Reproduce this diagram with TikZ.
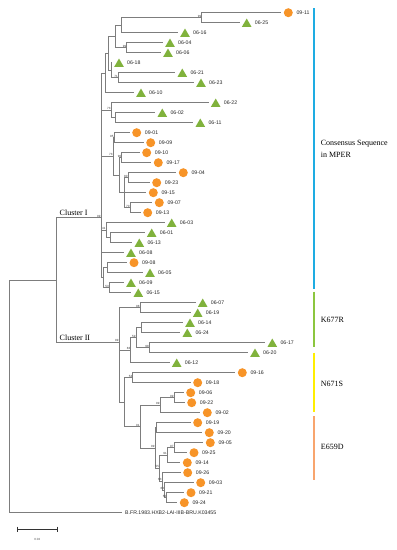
\documentclass[tikz,border=0pt]{standalone}
\usepackage{fontspec}
\setmainfont{Liberation Serif}
\newfontfamily\lsans{Liberation Sans}
\usetikzlibrary{shapes.geometric}
\definecolor{trgreen}{RGB}{128,178,60}
\definecolor{cirorange}{RGB}{247,148,40}
\definecolor{branch}{RGB}{125,125,125}
\definecolor{barblue}{RGB}{30,172,226}
\definecolor{bargreen}{RGB}{140,198,63}
\definecolor{baryellow}{RGB}{255,238,0}
\definecolor{barorange}{RGB}{248,165,110}
\tikzset{
  br/.style={draw=branch, line width=0.7pt},
  tri/.style={regular polygon, regular polygon sides=3, fill=trgreen, draw=none, inner sep=0pt, minimum size=11pt, yshift=-1.3pt},
  cir/.style={circle, fill=cirorange, draw=none, inner sep=0pt, minimum size=9pt},
  lab/.style={anchor=west, font=\lsans\fontsize{5.2}{6}\selectfont, inner sep=0pt, text=black!85},
  bs/.style={anchor=south east, font=\lsans\fontsize{3}{3.5}\selectfont, inner sep=0.3pt, text=black!80},
  clus/.style={anchor=base west, font=\fontsize{8}{9.6}\selectfont, inner sep=0pt},
  grp/.style={anchor=west, align=left, font=\fontsize{8}{12}\selectfont, inner sep=0pt},
  gbar/.style={line width=1.5pt}
}
\newcommand\leafT[4]{%
  \coordinate (#1) at ({#3-7},#2);
  \node[tri] (#1s) at (#3,#2) {};
  \node[lab] (#1t) at ({#3+8},#2) {#4};
}
\newcommand\leafC[4]{%
  \coordinate (#1) at ({#3-7},#2);
  \node[cir] (#1s) at (#3,#2) {};
  \node[lab] (#1t) at ({#3+8},#2) {#4};
}
\begin{document}
\begin{tikzpicture}[x=1pt,y=-1pt]
\useasboundingbox (0,0) rectangle (397,550);
% ---------------- leaves
\leafC{l1}{12.7}{288.3}{09-11}
\leafT{l2}{22.7}{246.7}{06-25}
\leafT{l3}{32.7}{185}{06-16}
\leafT{l4}{42.7}{170}{06-04}
\leafT{l5}{52.7}{168}{06-06}
\leafT{l6}{62.7}{119}{06-18}
\leafT{l7}{72.7}{182.3}{06-21}
\leafT{l8}{82.7}{201}{06-23}
\leafT{l9}{92.7}{141}{06-10}
\leafT{l10}{102.7}{215.7}{06-22}
\leafT{l11}{112.7}{162.3}{06-02}
\leafT{l12}{122.7}{200.3}{06-11}
\leafC{l13}{132.7}{136.7}{09-01}
\leafC{l14}{142.7}{150.7}{09-09}
\leafC{l15}{152.7}{146.7}{09-10}
\leafC{l16}{162.7}{158.3}{09-17}
\leafC{l17}{172.7}{183.3}{09-04}
\leafC{l18}{182.7}{156.7}{09-23}
\leafC{l19}{192.7}{153.3}{09-15}
\leafC{l20}{202.7}{159.3}{09-07}
\leafC{l21}{212.7}{147.7}{09-13}
\leafT{l22}{222.7}{171.7}{06-03}
\leafT{l23}{232.7}{151.7}{06-01}
\leafT{l24}{242.7}{139.3}{06-13}
\leafT{l25}{252.7}{131}{06-08}
\leafC{l26}{262.7}{134}{09-08}
\leafT{l27}{272.7}{150}{06-05}
\leafT{l28}{282.7}{131}{06-09}
\leafT{l29}{292.7}{138.3}{06-15}
\leafT{l30}{302.7}{202.7}{06-07}
\leafT{l31}{312.7}{197.7}{06-19}
\leafT{l32}{322.7}{190}{06-14}
\leafT{l33}{332.7}{187.3}{06-24}
\leafT{l34}{342.7}{272.3}{06-17}
\leafT{l35}{352.7}{255}{06-20}
\leafT{l36}{362.7}{176.7}{06-12}
\leafC{l37}{372.7}{242.3}{09-16}
\leafC{l38}{382.7}{197.7}{09-18}
\leafC{l39}{392.7}{190.7}{09-06}
\leafC{l40}{402.7}{191.7}{09-22}
\leafC{l41}{412.7}{207.3}{09-02}
\leafC{l42}{422.7}{197.7}{09-19}
\leafC{l43}{432.7}{209.3}{09-20}
\leafC{l44}{442.7}{210.3}{09-05}
\leafC{l45}{452.7}{194}{09-25}
\leafC{l46}{462.7}{187.3}{09-14}
\leafC{l47}{472.7}{187.7}{09-26}
\leafC{l48}{482.7}{200.7}{09-03}
\leafC{l49}{492.7}{191}{09-21}
\leafC{l50}{502.7}{184.3}{09-24}
\coordinate (l51) at (121.7,512.7);
\node[lab] (l51t) at (125,512.7) {B.FR.1983.HXB2-LAI-IIIB-BRU.K03455};
% ---------------- internal nodes
\coordinate (nA) at (201.7,17.7);
\coordinate (nB) at (121,25.2);
\coordinate (nC) at (126.7,47.7);
\coordinate (nD) at (115,36.45);
\coordinate (nF) at (118.3,77.7);
\coordinate (nG) at (111,70.2);
\coordinate (nE) at (108,53.3);
\coordinate (nH) at (105,73);
\coordinate (nI) at (115,117.7);
\coordinate (nJ) at (111,110.2);
\coordinate (nK) at (114,137.7);
\coordinate (nM) at (121.7,157.7);
\coordinate (nN) at (128,177.7);
\coordinate (nO) at (130,207.7);
\coordinate (nP) at (124.5,192.7);
\coordinate (nQ) at (119,175.2);
\coordinate (nL) at (113,156.45);
\coordinate (nS2) at (110,237.7);
\coordinate (nS) at (106,230.2);
\coordinate (nU1) at (107,267.7);
\coordinate (nU2) at (109.3,287.7);
\coordinate (nU) at (103,277.7);
\coordinate (nCI) at (101,217.7);
\coordinate (nV) at (140,307.7);
\coordinate (nY1) at (141.7,327.7);
\coordinate (nY2) at (149.3,347.7);
\coordinate (nX) at (136,337.7);
\coordinate (nW) at (130.7,350.2);
\coordinate (nAA) at (132.7,377.7);
\coordinate (nEE) at (174,397.7);
\coordinate (nDD) at (160,405.2);
\coordinate (nGG) at (156.7,427.7);
\coordinate (nII) at (174,447.7);
\coordinate (nJJ) at (167.3,455.2);
\coordinate (nNN) at (166.7,497.7);
\coordinate (nMM) at (164.5,490.2);
\coordinate (nLL) at (162,481.45);
\coordinate (nKK) at (159.5,468.3);
\coordinate (nFF) at (155,447.9);
\coordinate (nCC) at (140,426.55);
\coordinate (nBB) at (124,402.1);
\coordinate (nCII) at (119,342);
\coordinate (nAN) at (56,279.85);
\coordinate (nR) at (9,396.3);
% ---------------- branches
\draw[br] (nA) |- (l1) (nA) |- (l2);
\draw[br] (nB) |- (nA) (nB) |- (l3);
\draw[br] (nC) |- (l4) (nC) |- (l5);
\draw[br] (nD) |- (nB) (nD) |- (nC);
\draw[br] (nF) |- (l7) (nF) |- (l8);
\draw[br] (nG) |- (l6) (nG) |- (nF);
\draw[br] (nE) |- (nD) (nE) |- (nG);
\draw[br] (nH) |- (nE) (nH) |- (l9);
\draw[br] (nI) |- (l11) (nI) |- (l12);
\draw[br] (nJ) |- (l10) (nJ) |- (nI);
\draw[br] (nK) |- (l13) (nK) |- (l14);
\draw[br] (nM) |- (l15) (nM) |- (l16);
\draw[br] (nN) |- (l17) (nN) |- (l18);
\draw[br] (nO) |- (l20) (nO) |- (l21);
\draw[br] (nP) |- (nN) (nP) |- (l19) (nP) |- (nO);
\draw[br] (nQ) |- (nM) (nQ) |- (nP);
\draw[br] (nL) |- (nK) (nL) |- (nQ);
\draw[br] (nS2) |- (l23) (nS2) |- (l24);
\draw[br] (nS) |- (l22) (nS) |- (nS2);
\draw[br] (nU1) |- (l26) (nU1) |- (l27);
\draw[br] (nU2) |- (l28) (nU2) |- (l29);
\draw[br] (nU) |- (nU1) (nU) |- (nU2);
\draw[br] (nCI) |- (nH) (nCI) |- (nJ) (nCI) |- (nL) (nCI) |- (nS) (nCI) |- (l25) (nCI) |- (nU);
\draw[br] (nV) |- (l30) (nV) |- (l31);
\draw[br] (nY1) |- (l32) (nY1) |- (l33);
\draw[br] (nY2) |- (l34) (nY2) |- (l35);
\draw[br] (nX) |- (nY1) (nX) |- (nY2);
\draw[br] (nW) |- (nX) (nW) |- (l36);
\draw[br] (nAA) |- (l37) (nAA) |- (l38);
\draw[br] (nEE) |- (l39) (nEE) |- (l40);
\draw[br] (nDD) |- (nEE) (nDD) |- (l41);
\draw[br] (nGG) |- (l42) (nGG) |- (l43);
\draw[br] (nII) |- (l44) (nII) |- (l45);
\draw[br] (nJJ) |- (nII) (nJJ) |- (l46);
\draw[br] (nNN) |- (l49) (nNN) |- (l50);
\draw[br] (nMM) |- (l48) (nMM) |- (nNN);
\draw[br] (nLL) |- (l47) (nLL) |- (nMM);
\draw[br] (nKK) |- (nJJ) (nKK) |- (nLL);
\draw[br] (nFF) |- (nGG) (nFF) |- (nKK);
\draw[br] (nCC) |- (nDD) (nCC) |- (nFF);
\draw[br] (nBB) |- (nAA) (nBB) |- (nCC);
\draw[br] (nCII) |- (nV) (nCII) |- (nW) (nCII) |- (nBB);
\draw[br] (nAN) |- (nCI) (nAN) |- (nCII);
\draw[br] (nR) |- (nAN) (nR) |- (l51);
% ---------------- bootstrap values
\node[bs] (bA) at (nA) {99};
\node[bs] (bC) at (nC) {99};
\node[bs] (bF) at (nF) {71};
\node[bs] (bJ) at (nJ) {73};
\node[bs] (bK) at (nK) {95};
\node[bs] (bL) at (nL) {73};
\node[bs] (bM) at (nM) {90};
\node[bs] (bN) at (nN) {80};
\node[bs] (bO) at (nO) {70};
\node[bs] (bS) at (nS) {41};
\node[bs] (bU2) at (nU2) {53};
\node[bs] (bCI) at (nCI) {99};
\node[bs] (bV) at (nV) {98};
\node[bs] (bX) at (nX) {59};
\node[bs] (bY2) at (nY2) {98};
\node[bs] (bW) at (nW) {83};
\node[bs] (bAA) at (nAA) {53};
\node[bs] (bEE) at (nEE) {99};
\node[bs] (bDD) at (nDD) {99};
\node[bs] (bCC) at (nCC) {91};
\node[bs] (bFF) at (nFF) {99};
\node[bs] (bII) at (nII) {97};
\node[bs] (bJJ) at (nJJ) {91};
\node[bs] (bKK) at (nKK) {55};
\node[bs] (bLL) at (nLL) {63};
\node[bs] (bMM) at (nMM) {63};
\node[bs] (bNN) at (nNN) {50};
\node[bs] (bCII) at (nCII) {99};
% ---------------- cluster labels
\node[clus] (c1) at (59.5,215.6) {Cluster I};
\node[clus] (c2) at (59.5,340.3) {Cluster II};
% ---------------- scale bar
\coordinate (sb1) at (17.3,529);
\coordinate (sb2) at (57.3,529);
\draw[line width=1pt, black!80] (sb1) -- (sb2);
\draw[line width=0.8pt, black!80] ([yshift=2.5pt]sb1) -- ([yshift=-2.5pt]sb1);
\draw[line width=0.8pt, black!80] ([yshift=2.5pt]sb2) -- ([yshift=-2.5pt]sb2);
\node[font=\lsans\fontsize{3}{3.5}\selectfont, inner sep=0pt, text=black!70] (sbt) at (37.3,539.5) {0.02};
% ---------------- group bars
\coordinate (gb1) at (314,8.3);   \coordinate (gb2) at (314,289.3);
\coordinate (gg1) at (314,291.7); \coordinate (gg2) at (314,347.3);
\coordinate (gy1) at (314,352.7); \coordinate (gy2) at (314,411.7);
\coordinate (go1) at (314,416);   \coordinate (go2) at (314,480);
\draw[gbar, barblue] (gb1) -- (gb2);
\draw[gbar, bargreen] (gg1) -- (gg2);
\draw[gbar, baryellow] (gy1) -- (gy2);
\draw[gbar, barorange] (go1) -- (go2);
\node[grp] (t1) at (320.7,149) {Consensus Sequence\\in MPER};
\node[grp] (t2) at (320.7,320) {K677R};
\node[grp] (t3) at (320.7,384) {N671S};
\node[grp] (t4) at (320.7,447) {E659D};
\end{tikzpicture}
\end{document}
